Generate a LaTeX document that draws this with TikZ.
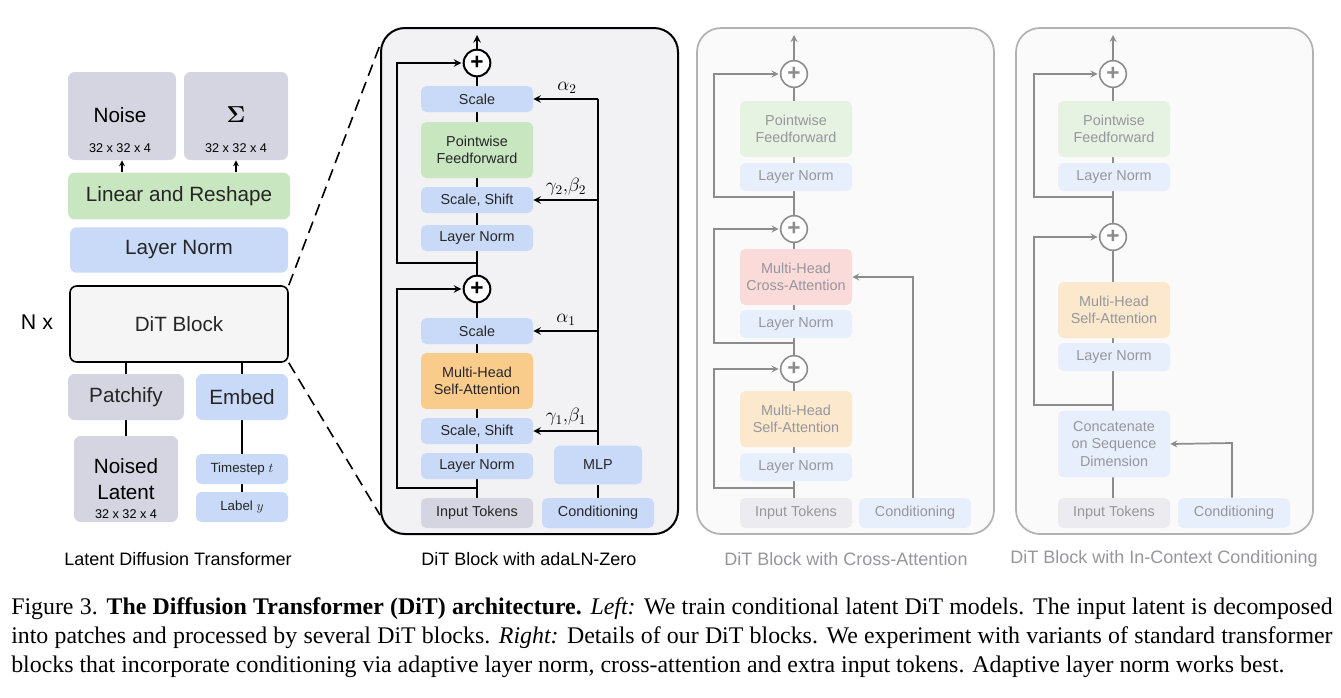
\documentclass[tikz,border=0pt]{standalone}
\usepackage{fontspec}
\setmainfont{Liberation Sans}
\newfontfamily\capfont{Liberation Serif}
\usepackage{amsmath}
\usepackage{tikz}
\usetikzlibrary{backgrounds,shapes,fit}
\definecolor{gblue}{RGB}{201,218,248}
\definecolor{ggreen}{RGB}{200,230,192}
\definecolor{gorange}{RGB}{249,204,140}
\definecolor{ggray}{RGB}{212,213,224}
\definecolor{panelbg}{RGB}{242,242,244}
\definecolor{fblue}{RGB}{232,239,252}
\definecolor{fgreen}{RGB}{230,243,227}
\definecolor{forange}{RGB}{252,232,205}
\definecolor{fpink}{RGB}{251,218,218}
\definecolor{fgray}{RGB}{236,236,240}
\definecolor{ftext}{RGB}{150,150,155}
\definecolor{fline}{RGB}{140,140,140}
\pgfdeclarelayer{edgelayer}
\pgfdeclarelayer{nodelayer}
\pgfsetlayers{edgelayer,main,nodelayer}
\tikzstyle{none}=[inner sep=0pt]
\tikzstyle{blk}=[rectangle,rounded corners=4pt,inner sep=0pt,minimum width=84pt,minimum height=19.5pt,align=center,text=black!85,font=\fontsize{10.8}{12.8}\selectfont]
\tikzstyle{bigblk}=[blk,minimum height=42pt]
\tikzstyle{lblk}=[rectangle,rounded corners=5pt,inner sep=0pt,align=center,text=black!85,font=\fontsize{15.5}{18}\selectfont]
\tikzstyle{plus}=[circle,draw=black,fill=white,line width=1.5pt,minimum size=20pt,inner sep=0pt,font=\fontsize{17}{17}\selectfont\bfseries]
\tikzstyle{fplus}=[plus,draw=fline,text=fline,line width=1.2pt]
\tikzstyle{flow}=[-,line width=1.5pt]
\tikzstyle{inarrow}=[->,>=stealth,line width=1.5pt]
\tikzstyle{fflow}=[-,draw=fline,line width=1.3pt]
\tikzstyle{farrow}=[->,>=stealth,draw=fline,line width=1.3pt]
\tikzstyle{panel}=[rectangle,rounded corners=18pt,inner sep=0pt]
\tikzstyle{empty}=[inner sep=0pt,font=\fontsize{13.5}{15}\selectfont]
\tikzstyle{greek}=[inner sep=0pt,font=\fontsize{14}{15}\selectfont]
\begin{document}
\begin{tikzpicture}[x=0.75pt,y=-0.75pt]
	\useasboundingbox (0,0) rectangle (1341,697);
	\begin{pgfonlayer}{nodelayer}
		% left: latent diffusion transformer
		\node [style=lblk,fill=ggray,minimum width=81pt,minimum height=66pt] (noise) at (122,116) {};
		\node at (120,115) [font=\fontsize{15.5}{18}\selectfont] {Noise};
		\node at (120,148) [font=\fontsize{9.5}{11}\selectfont] {32 x 32 x 4};
		\node [style=lblk,fill=ggray,minimum width=78pt,minimum height=66pt] (sigma) at (236,116) {};
		\node at (236,115) [font=\fontsize{18}{18}\selectfont] {$\boldsymbol{\Sigma}$};
		\node at (236,148) [font=\fontsize{9.5}{11}\selectfont] {32 x 32 x 4};
		\node [style=lblk,fill=ggreen,minimum width=166.5pt,minimum height=35pt] (lin) at (179,196) {Linear and Reshape};
		\node [style=lblk,fill=gblue,minimum width=163.5pt,minimum height=34pt] (lnorm) at (179,250) {Layer Norm};
		\node [style=lblk,fill=black!4,draw=black,line width=1.2pt,minimum width=163.5pt,minimum height=57pt] (dit) at (179,324) {DiT Block};
		\node [style=empty,font=\fontsize{16}{18}\selectfont] (nx) at (37,322) {N x};
		\node [style=lblk,fill=ggray,minimum width=87pt,minimum height=34.5pt] (patch) at (126,397) {Patchify};
		\node [style=lblk,fill=gblue,minimum width=69pt,minimum height=34.5pt] (embed) at (242,397) {Embed};
		\node [style=lblk,fill=ggray,minimum width=78pt,minimum height=64.5pt] (latent) at (126,479) {};
		\node at (126,466) [font=\fontsize{15.5}{18}\selectfont] {Noised};
		\node at (126,492) [font=\fontsize{15.5}{18}\selectfont] {Latent};
		\node at (126,514) [font=\fontsize{9.5}{11}\selectfont] {32 x 32 x 4};
		\node [style=blk,fill=gblue,minimum width=69pt,minimum height=22.5pt,font=\fontsize{10}{12}\selectfont] (tstep) at (242,469) {Timestep $t$};
		\node [style=blk,fill=gblue,minimum width=69pt,minimum height=22.5pt,font=\fontsize{10}{12}\selectfont] (label) at (242,507) {Label $y$};
		\node [style=empty] (capL) at (178,559) {Latent Diffusion Transformer};

		% adaLN-Zero block
		\node [style=plus] (p2) at (477,63) {+};
		\node [style=blk,fill=gblue] (sc2) at (477,99) {Scale};
		\node [style=bigblk,fill=ggreen] (ff) at (477,150) {Pointwise\\Feedforward};
		\node [style=blk,fill=gblue] (ss2) at (477,200) {Scale, Shift};
		\node [style=blk,fill=gblue] (ln2) at (477,238) {Layer Norm};
		\node [style=plus] (p1) at (477,289) {+};
		\node [style=blk,fill=gblue] (sc1) at (477,331) {Scale};
		\node [style=bigblk,fill=gorange] (sa) at (477,381) {Multi-Head\\Self-Attention};
		\node [style=blk,fill=gblue] (ss1) at (477,431) {Scale, Shift};
		\node [style=blk,fill=gblue] (ln1) at (477,466) {Layer Norm};
		\node [style=blk,fill=ggray,minimum height=22.5pt] (tok) at (477,513) {Input Tokens};
		\node [style=blk,fill=gblue,minimum width=66pt,minimum height=29pt] (mlp) at (598,465) {MLP};
		\node [style=blk,fill=gblue,minimum height=22.5pt] (cond) at (598,513) {Conditioning};
		\node [style=greek] at (567,88) {$\alpha_2$};
		\node [style=greek] at (566,187) {$\gamma_2,\!\beta_2$};
		\node [style=greek] at (566,320) {$\alpha_1$};
		\node [style=greek] at (566,417) {$\gamma_1,\!\beta_1$};
		\node [style=empty] (capM) at (529,559) {DiT Block with adaLN-Zero};

		% cross-attention block
		\node [style=fplus] (cp3) at (794,74) {+};
		\node [style=bigblk,fill=fgreen,text=ftext] (cff) at (796,129) {Pointwise\\Feedforward};
		\node [style=blk,fill=fblue,text=ftext,minimum height=21pt] (cln3) at (796,177) {Layer Norm};
		\node [style=fplus] (cp2) at (794,229) {+};
		\node [style=bigblk,fill=fpink,text=ftext] (cca) at (796,277) {Multi-Head\\Cross-Attention};
		\node [style=blk,fill=fblue,text=ftext,minimum height=21pt] (cln2) at (796,324) {Layer Norm};
		\node [style=fplus] (cp1) at (794,369) {+};
		\node [style=bigblk,fill=forange,text=ftext] (csa) at (796,419) {Multi-Head\\Self-Attention};
		\node [style=blk,fill=fblue,text=ftext,minimum height=21pt] (cln1) at (796,467) {Layer Norm};
		\node [style=blk,fill=fgray,text=ftext,minimum height=22.5pt] (ctok) at (796,513) {Input Tokens};
		\node [style=blk,fill=fblue,text=ftext,minimum height=22.5pt] (ccond) at (915,513) {Conditioning};
		\node [style=empty,text=ftext] (capC) at (846,559) {DiT Block with Cross-Attention};

		% in-context block
		\node [style=fplus] (ip2) at (1113,74) {+};
		\node [style=bigblk,fill=fgreen,text=ftext] (iff) at (1114,129) {Pointwise\\Feedforward};
		\node [style=blk,fill=fblue,text=ftext,minimum height=21pt] (iln2) at (1114,177) {Layer Norm};
		\node [style=fplus] (ip1) at (1113,237) {+};
		\node [style=bigblk,fill=forange,text=ftext] (isa) at (1114,310) {Multi-Head\\Self-Attention};
		\node [style=blk,fill=fblue,text=ftext,minimum height=21pt] (iln1) at (1114,357) {Layer Norm};
		\node [style=blk,fill=fblue,text=ftext,minimum height=50pt] (icat) at (1114,444) {Concatenate\\on Sequence\\Dimension};
		\node [style=blk,fill=fgray,text=ftext,minimum height=22.5pt] (itok) at (1114,513) {Input Tokens};
		\node [style=blk,fill=fblue,text=ftext,minimum height=22.5pt] (icond) at (1234,513) {Conditioning};
		\node [style=empty,text=ftext] (capI) at (1164,559) {DiT Block with In-Context Conditioning};

		% caption
		\node [inner sep=0pt,anchor=north west,text width=991pt,align=justify,font=\capfont\fontsize{17.9}{21.75}\selectfont] (fig) at (11,597) {Figure 3. \textbf{The Diffusion Transformer (DiT) architecture.} \textit{Left:} We train conditional latent DiT models. The input latent is decomposed into patches and processed by several DiT blocks. \textit{Right:} Details of our DiT blocks. We experiment with variants of standard transformer blocks that incorporate conditioning via adaptive layer norm, cross-attention and extra input tokens. Adaptive layer norm works best.};

		\coordinate (mTop) at (477,35);
		\coordinate (mR1a) at (477,488);
		\coordinate (mR1b) at (397,488);
		\coordinate (mR2a) at (477,263);
		\coordinate (mR2b) at (397,263);
		\coordinate (cA2) at (598,99);
		\coordinate (cG2) at (598,200);
		\coordinate (cA1) at (598,331);
		\coordinate (cG1) at (598,431);
		\coordinate (dTL) at (380,45);
		\coordinate (dBL) at (380,515);
		\coordinate (xTop) at (794,35);
		\coordinate (xR1a) at (794,488);
		\coordinate (xR1b) at (714,488);
		\coordinate (xR2a) at (794,343);
		\coordinate (xR2b) at (714,343);
		\coordinate (xR3a) at (794,197);
		\coordinate (xR3b) at (714,197);
		\coordinate (xC) at (913,277);
		\coordinate (iTop) at (1113,35);
		\coordinate (iR1a) at (1113,405);
		\coordinate (iR1b) at (1034,405);
		\coordinate (iR2a) at (1113,197);
		\coordinate (iR2b) at (1034,197);
		\coordinate (iC) at (1232,443);
	\end{pgfonlayer}
	\begin{pgfonlayer}{edgelayer}
		\node [style=panel,fill=panelbg,draw=black,line width=1.5pt,minimum width=222.75pt,minimum height=379.5pt] (midP) at (529.5,281) {};
		\node [style=panel,fill=black!2,draw=black!30,line width=1.3pt,minimum width=222.75pt,minimum height=379.5pt] (crossP) at (845.5,281) {};
		\node [style=panel,fill=black!2,draw=black!30,line width=1.3pt,minimum width=222.75pt,minimum height=379.5pt] (ctxP) at (1164.5,281) {};

		\draw [->,>=stealth,line width=1pt] (lin.north -| noise.south) to (noise.south);
		\draw [->,>=stealth,line width=1pt] (lin.north -| sigma.south) to (sigma.south);
		\draw [line width=1.3pt] (dit.south -| patch.north) to (patch.north);
		\draw [line width=1.3pt] (dit.south -| embed.north) to (embed.north);
		\draw [line width=1.3pt] (latent.north) to (patch.south);
		\draw [line width=1.3pt] (embed.south) to (tstep.north);
		\draw [line width=1.3pt] (tstep.south) to (label.north);
		\draw [dashed,line width=1.2pt,dash pattern=on 9pt off 5pt] (dit.north east) to (dTL);
		\draw [dashed,line width=1.2pt,dash pattern=on 9pt off 5pt] (dit.south east) to (dBL);

		\draw [style=flow] (tok.north) to (p1.south);
		\draw [style=flow] (p1.north) to (p2.south);
		\draw [style=inarrow] (p2.north) to (mTop);
		\draw [style=inarrow] (mR1a) to (mR1b) |- ([xshift=-1pt]p1.west);
		\draw [style=inarrow] (mR2a) to (mR2b) |- ([xshift=-1pt]p2.west);
		\draw [style=flow] (mlp.north) to (cA2);
		\draw [style=flow] (cond.north) to (mlp.south);
		\draw [style=inarrow] (cA2) to (sc2.east);
		\draw [style=inarrow] (cG2) to (ss2.east);
		\draw [style=inarrow] (cA1) to (sc1.east);
		\draw [style=inarrow] (cG1) to (ss1.east);

		\draw [style=fflow] (ctok.north -| cp1) to (cp1.south);
		\draw [style=fflow] (cp1.north) to (cp2.south);
		\draw [style=fflow] (cp2.north) to (cp3.south);
		\draw [style=farrow] (cp3.north) to (xTop);
		\draw [style=farrow] (xR1a) to (xR1b) |- ([xshift=-1pt]cp1.west);
		\draw [style=farrow] (xR2a) to (xR2b) |- ([xshift=-1pt]cp2.west);
		\draw [style=farrow] (xR3a) to (xR3b) |- ([xshift=-1pt]cp3.west);
		\draw [style=farrow] (ccond.north -| xC) to (xC) to (cca.east);

		\draw [style=fflow] (itok.north -| ip1) to (ip1.south);
		\draw [style=fflow] (ip1.north) to (ip2.south);
		\draw [style=farrow] (ip2.north) to (iTop);
		\draw [style=farrow] (iR1a) to (iR1b) |- ([xshift=-1pt]ip1.west);
		\draw [style=farrow] (iR2a) to (iR2b) |- ([xshift=-1pt]ip2.west);
		\draw [style=farrow] (icond.north -| iC) to (iC) to (icat.east);
	\end{pgfonlayer}
\end{tikzpicture}
\end{document}
